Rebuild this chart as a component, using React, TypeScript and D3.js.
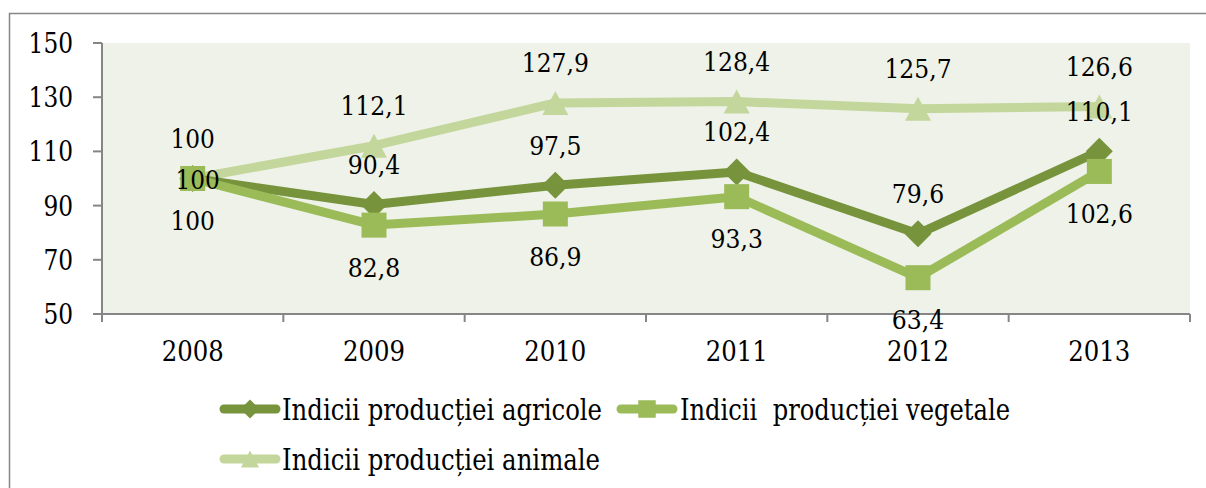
import React from "react";
import * as d3 from "d3";

const years = ["2008", "2009", "2010", "2011", "2012", "2013"];
const agricole = [100, 90.4, 97.5, 102.4, 79.6, 110.1];
const vegetale = [100, 82.8, 86.9, 93.3, 63.4, 102.6];
const animale = [100, 112.1, 127.9, 128.4, 125.7, 126.6];
const yTicks = [50, 70, 90, 110, 130, 150];

const seriesNames = [
  "Indicii producției agricole",
  "Indicii  producției vegetale",
  "Indicii producției animale",
];

const C_AGR = "#77933C";
const C_VEG = "#9BBB59";
const C_ANI = "#C3D69B";
const AXIS = "#868686";
const FONT = "DejaVu Serif";

const fmt = (v: number) => String(v).replace(".", ",");

function marker(kind: string, x: number, y: number, color: string, s = 1) {
  if (kind === "diamond") {
    const h = 13.5 * s;
    return <path d={`M${x},${y - h}L${x + h},${y}L${x},${y + h}L${x - h},${y}Z`} fill={color} />;
  }
  if (kind === "square") {
    const h = 12.5 * s;
    return <rect x={x - h} y={y - h} width={2 * h} height={2 * h} fill={color} />;
  }
  const w = 13 * s;
  const hh = 12 * s;
  return <path d={`M${x},${y - hh}L${x + w},${y + hh}L${x - w},${y + hh}Z`} fill={color} />;
}

export default function App() {
  const left = 102, right = 1190, top = 43, bottom = 314;
  const x = d3.scaleBand<string>().domain(years).range([left, right]).padding(0);
  const y = d3.scaleLinear().domain([50, 150]).range([bottom, top]);
  const cx = (yr: string) => (x(yr) as number) + x.bandwidth() / 2;

  const line = d3
    .line<number>()
    .x((_, i) => cx(years[i]))
    .y((d) => y(d));

  const series = [
    { name: seriesNames[2], values: animale, color: C_ANI, kind: "triangle", pos: "above" },
    { name: seriesNames[0], values: agricole, color: C_AGR, kind: "diamond", pos: "above" },
    { name: seriesNames[1], values: vegetale, color: C_VEG, kind: "square", pos: "below" },
  ];

  const boundaries = years.map((yr) => x(yr) as number).concat([right]);
  const ts = { fontFamily: FONT, whiteSpace: "pre" as const };

  return (
    <svg width={1206} height={488} style={{ position: "absolute", left: 0, top: 0 }}>
      <rect x={0} y={0} width={1206} height={488} fill="#ffffff" />
      <path d={`M9.5,500V13.5H1210`} fill="none" stroke={AXIS} strokeWidth={1.5} />
      <rect x={left} y={top} width={right - left} height={bottom - top} fill="#EEF2E8" />

      {/* y axis */}
      <line x1={left} x2={left} y1={top} y2={bottom} stroke={AXIS} strokeWidth={2} />
      {yTicks.map((t) => (
        <g key={t}>
          <line x1={left - 9} x2={left} y1={y(t)} y2={y(t)} stroke={AXIS} strokeWidth={2} />
          <text x={73} y={y(t) + 10} textAnchor="end" fontSize={27} fill="#000" style={ts}
            textLength={String(t).length * 14.8} lengthAdjust="spacingAndGlyphs">
            {t}
          </text>
        </g>
      ))}

      {/* x axis */}
      <line x1={left} x2={right} y1={bottom} y2={bottom} stroke={AXIS} strokeWidth={2} />
      {boundaries.map((b, i) => (
        <line key={i} x1={b} x2={b} y1={bottom} y2={bottom + 8} stroke={AXIS} strokeWidth={2} />
      ))}
      {years.map((yr) => (
        <text key={yr} x={cx(yr)} y={361} textAnchor="middle" fontSize={28} fill="#000" style={ts}
          textLength={62} lengthAdjust="spacingAndGlyphs">
          {yr}
        </text>
      ))}

      {/* lines */}
      {series.map((s) => (
        <g key={s.name}>
          <path
            d={line(s.values) as string}
            fill="none"
            stroke={s.color}
            strokeWidth={9}
            strokeLinejoin="round"
            strokeLinecap="round"
          />
          {s.values.map((v, i) => (
            <g key={i}>{marker(s.kind, cx(years[i]), y(v), s.color)}</g>
          ))}
        </g>
      ))}

      {/* labels */}
      {series.map((s) =>
        s.values.map((v, i) => {
          const px = cx(years[i]);
          const py = y(v);
          let lx = px;
          let ly = s.pos === "above" ? py - 40 : py + 42;
          if (s.kind === "diamond" && i === 0) {
            lx = px + 5;
            ly = py + 1;
          }
          const txt = fmt(v);
          const w = txt.includes(",") ? (txt.length - 1) * 14.8 + 8 : txt.length * 14.8;
          return (
            <text
              key={s.name + i}
              x={lx}
              y={ly + 9.5}
              textAnchor="middle"
              fontSize={26}
              fill="#000"
              style={ts}
              textLength={w}
              lengthAdjust="spacingAndGlyphs"
            >
              {txt}
            </text>
          );
        })
      )}

      {/* legend */}
      {[
        { s: series[1], lx: 220, ly: 409, tx: 282, tl: 320 },
        { s: series[2], lx: 617, ly: 409, tx: 680, tl: 330 },
        { s: series[0], lx: 220, ly: 459, tx: 282, tl: 318 },
      ].map((it) => (
        <g key={it.s.name}>
          <line
            x1={it.lx + 4}
            x2={it.lx + 56}
            y1={it.ly}
            y2={it.ly}
            stroke={it.s.color}
            strokeWidth={9}
            strokeLinecap="round"
          />
          {marker(it.s.kind, it.lx + 30, it.ly, it.s.color, 0.7)}
          <text
            x={it.tx}
            y={it.ly + 11}
            fontSize={29}
            fill="#000"
            textLength={it.tl}
            lengthAdjust="spacingAndGlyphs"
            style={ts}
          >
            {it.s.name}
          </text>
        </g>
      ))}
    </svg>
  );
}
